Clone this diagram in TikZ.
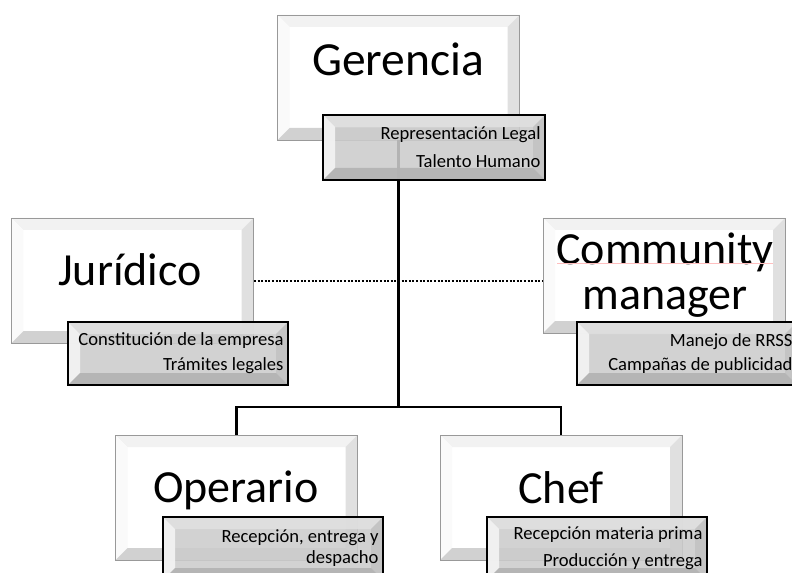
\documentclass[tikz,border=0pt]{standalone}
\usepackage{fontspec}
\setmainfont{Carlito}

\newcommand\bisel[5]{%
  \fill[#2] (path picture bounding box.north west) -- (path picture bounding box.north east)
    -- ([xshift=-#1,yshift=-#1]path picture bounding box.north east)
    -- ([xshift=#1,yshift=-#1]path picture bounding box.north west) -- cycle;
  \fill[#3] (path picture bounding box.north west) -- (path picture bounding box.south west)
    -- ([xshift=#1,yshift=#1]path picture bounding box.south west)
    -- ([xshift=#1,yshift=-#1]path picture bounding box.north west) -- cycle;
  \fill[#4] (path picture bounding box.north east) -- (path picture bounding box.south east)
    -- ([xshift=-#1,yshift=#1]path picture bounding box.south east)
    -- ([xshift=-#1,yshift=-#1]path picture bounding box.north east) -- cycle;
  \fill[#5] (path picture bounding box.south west) -- (path picture bounding box.south east)
    -- ([xshift=-#1,yshift=#1]path picture bounding box.south east)
    -- ([xshift=#1,yshift=#1]path picture bounding box.south west) -- cycle;
}

\begin{document}
\begin{tikzpicture}[x=1bp,y=-1bp,
  cargo/.style={rectangle, draw=black!40, line width=0.8bp, fill=white, inner sep=0pt,
    minimum width=242bp, minimum height=125bp,
    path picture={\bisel{12bp}{black!5}{black!2}{black!12}{black!18}}},
  titulo/.style={font=\fontsize{46bp}{45bp}\selectfont, inner sep=0pt, align=center},
  tarea/.style={rectangle, draw=black, line width=2.5bp, fill=black!20, fill opacity=0.88,
    text opacity=1, inner xsep=4.5bp, inner ysep=0pt, text width=211bp, minimum height=63bp,
    align=flush right, font=\fontsize{18.6bp}{21bp}\selectfont,
    path picture={\bisel{12bp}{black!12}{black!4}{black!24}{black!30}}},
  conector/.style={black, line width=2.5bp},
  punteado/.style={black, line width=2bp, dash pattern=on 2bp off 1.6bp}]
\useasboundingbox (0,0) rectangle (792,573);
\node[cargo] (ger) at (398.5,77.5) {};
\node[cargo] (jur) at (132.5,280.5) {};
\node[cargo, minimum height=115bp] (cm) at (664,275.5) {};
\node[cargo] (ope) at (236.5,497.5) {};
\node[cargo] (chef) at (561,497.5) {};
\node[titulo, anchor=base, font=\fontsize{47.5bp}{47bp}\selectfont] (ger-t) at (398,76) {Gerencia};
\node[titulo, anchor=base] (jur-t) at (130,285) {Jurídico};
\node[titulo] (cm-t) at (665,275) {Community\\manager};
\node[titulo, anchor=base] (ope-t) at (236,502) {Operario};
\node[titulo, anchor=base] (chef-t) at (561,503) {Chef};
\draw[red!25, line width=0.6bp] (557,263) -- (773,263);
\coordinate (bus) at (398.5,407);
\draw[conector] (ger.south) -- (bus);
\draw[conector] (ope.north) |- (bus) -| (chef.north);
\draw[punteado] (jur.east) -- (jur.east -| cm.west);
\node[tarea, text width=213bp, minimum height=65bp] (ger-f) at (434,147.5) {Representación Legal\\[7bp]Talento Humano};
\node[tarea] (jur-f) at (178,353.5) {Constitución de la empresa\\[4bp]Trámites legales};
\node[tarea] (cm-f) at (687,353.5) {Manejo de RRSS\\[3bp]Campañas de publicidad};
\node[tarea] (ope-f) at (273,548.5) {Recepción, entrega y\\despacho};
\node[tarea] (chef-f) at (597,548.5) {Recepción materia prima\\[6bp]Producción y entrega};
\end{tikzpicture}
\end{document}
